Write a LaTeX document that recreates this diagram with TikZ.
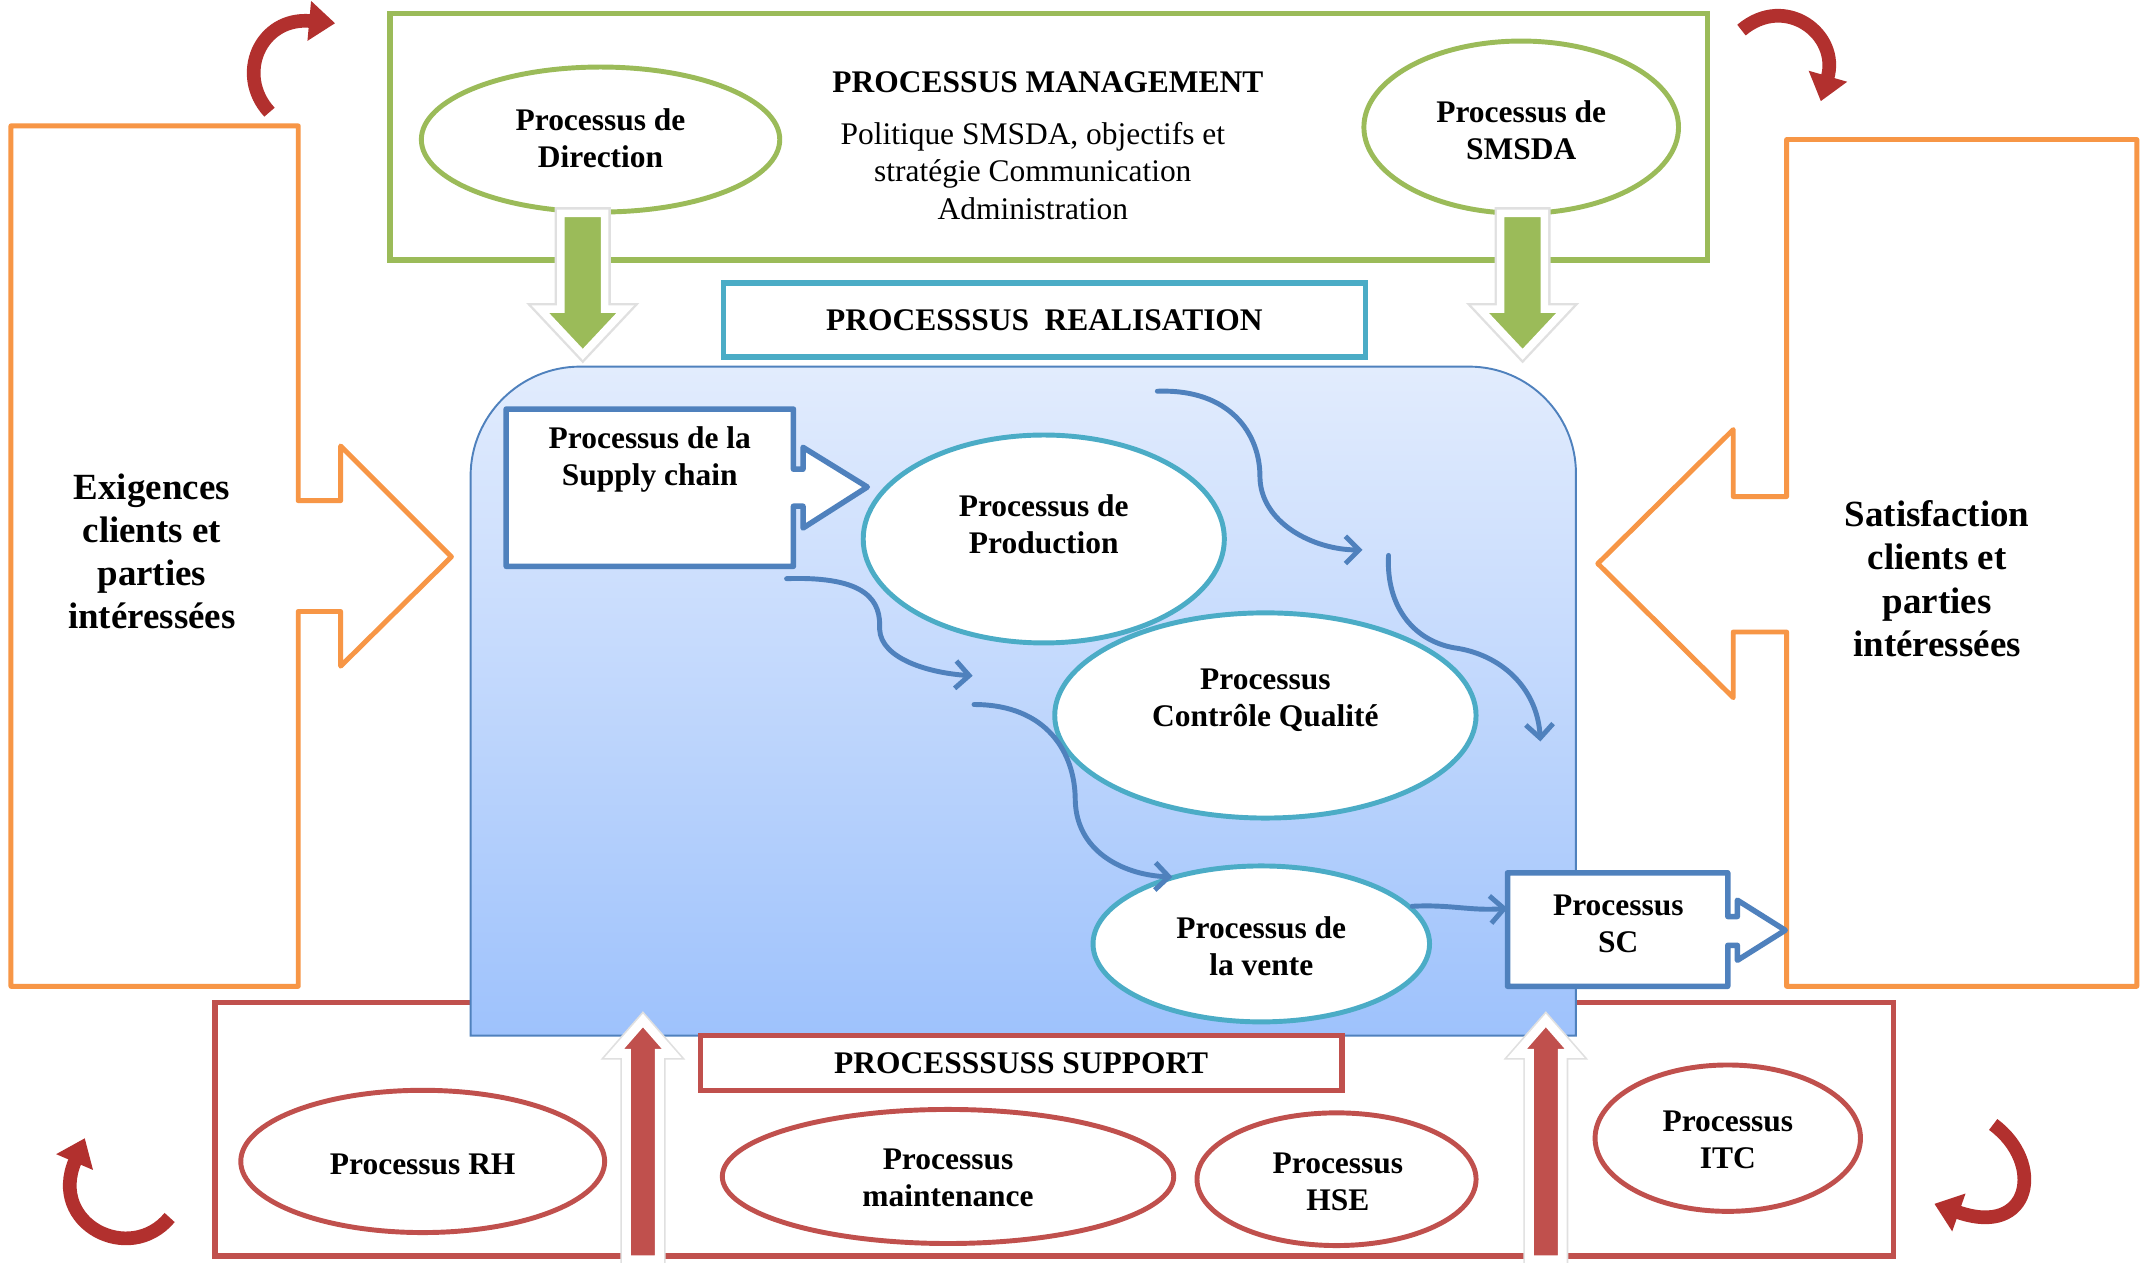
\documentclass[tikz,border=0pt]{standalone}
\usepackage{fontspec}
\setmainfont{Liberation Serif}
\usetikzlibrary{arrows.meta,shapes.geometric}

\definecolor{mgreen}{HTML}{9BBB59}
\definecolor{morange}{HTML}{F79646}
\definecolor{mcyan}{HTML}{4BACC6}
\definecolor{mblue}{HTML}{4F81BD}
\definecolor{mred}{HTML}{C0504D}
\definecolor{ribbon}{RGB}{178,48,46}
\definecolor{areatop}{RGB}{226,236,253}
\definecolor{areabot}{RGB}{158,194,252}

\tikzset{
  oval/.style={ellipse, fill=white, line width=3.6, inner sep=0},
  lbl/.style={align=center, font=\fontsize{23}{27}\selectfont\bfseries, inner sep=0},
  plain/.style={align=center, font=\fontsize{23}{27.5}\selectfont, inner sep=0},
  side/.style={align=center, font=\fontsize{27}{31.5}\selectfont\bfseries, inner sep=0},
  flow/.style={draw=mblue, line width=3.6, line cap=round, -{Straight Barb[length=10,width=20]}},
  ribbonarrow/.style={draw=ribbon, line width=10, -{Triangle[width=28,length=19]}},
  halo/.style={draw=black!12, line width=9, line join=miter},
  bigdown/.style={fill=mgreen, draw=white, line width=5.5, line join=miter},
  bigup/.style={fill=mred, draw=white, line width=6.5, line join=miter},
  titlebox/.style={lbl, fill=white, line width=4, inner sep=0},
}

\begin{document}
\begin{tikzpicture}[x=1pt, y=-1pt]
\useasboundingbox[fill=white] (0,0) rectangle (1568,923);

% support frame (its top edge is partly hidden by the realisation area)
\draw[mred, line width=4] (157,733) rectangle (1384,918);

% input / output arrows
\draw[morange, line width=3.6, fill=white, line join=round]
  (8,92) -- (218,92) -- (218,366) -- (249,366) -- (249,326) -- (330,407)
  -- (249,487) -- (249,447) -- (218,447) -- (218,721) -- (8,721) -- cycle;
\node[side] (exig) at (111,403) {Exigences\\clients et\\parties\\intéressées};

\draw[morange, line width=3.6, fill=white, line join=round]
  (1562,102) -- (1306,102) -- (1306,363) -- (1267,363) -- (1267,314) -- (1168,412)
  -- (1267,510) -- (1267,462) -- (1306,462) -- (1306,721) -- (1562,721) -- cycle;
\node[side] (satis) at (1416,423) {Satisfaction\\clients et\\parties\\intéressées};

% management processes
\draw[mgreen, line width=4] (285,10) rectangle (1248,190);
\node[oval, draw=mgreen, minimum width=262, minimum height=106] (dir) at (439,102) {};
\node[lbl] (dirt) at (439,101) {Processus de\\Direction};
\node[oval, draw=mgreen, minimum width=230, minimum height=126] (smsda) at (1112,93) {};
\node[lbl] (smsdat) at (1112,95) {Processus de\\SMSDA};
\node[lbl] (mgmt) at (766,60) {PROCESSUS MANAGEMENT};
\node[plain] (polit) at (755,125) {Politique SMSDA, objectifs et\\stratégie Communication\\Administration};

% realisation area
\path[shade, top color=areatop, bottom color=areabot, draw=mblue, line width=1.4]
  (344,757) -- (344,348) .. controls (344,304) and (380,268) .. (424,268)
  -- (1074,268) .. controls (1117,268) and (1152,303) .. (1152,346)
  -- (1152,757) -- cycle;
\node[titlebox, draw=mcyan, minimum width=469, minimum height=54] (real) at (763.5,234) {PROCESSSUS\ \ REALISATION};

% management feeding realisation
\foreach \cx in {426,1113} {
  \draw[halo] (\cx-16,156) -- (\cx+16,156) -- (\cx+16,226) -- (\cx+31,226) -- (\cx,259)
    -- (\cx-31,226) -- (\cx-16,226) -- cycle;
  \draw[bigdown] (\cx-16,156) -- (\cx+16,156) -- (\cx+16,226) -- (\cx+31,226) -- (\cx,259)
    -- (\cx-31,226) -- (\cx-16,226) -- cycle;
}

% realisation processes
\draw[mblue, line width=4, fill=white, line join=round]
  (370,299) -- (580,299) -- (580,343) -- (587,343) -- (587,327) -- (634,356)
  -- (587,386) -- (587,370) -- (580,370) -- (580,414) -- (370,414) -- cycle;
\node[lbl] (supt) at (475,336) {Processus de la\\Supply chain};

\node[oval, draw=mcyan, minimum width=308, minimum height=150] (ctrl) at (925,523) {};
\node[lbl] (ctrlt) at (925,512) {Processus\\Contrôle Qualité};
\node[oval, draw=mcyan, minimum width=264, minimum height=152] (prod) at (763,394) {};
\node[lbl] (prodt) at (763,383) {Processus de\\Production};
\node[oval, draw=mcyan, minimum width=246, minimum height=114] (vente) at (922,690) {};
\node[lbl] (ventet) at (922,692) {Processus de\\la vente};

% flows between realisation processes
\coordinate (f1a) at (575,423);  \coordinate (f1b) at (711,494);
\coordinate (f2a) at (712,515);  \coordinate (f2b) at (857,641);
\coordinate (f3a) at (846,286);  \coordinate (f3b) at (996,402);
\coordinate (f4a) at (1015,406); \coordinate (f4b) at (1126,542);
\coordinate (scin) at (1102,664);
\draw[flow] (f1a) .. controls (635,421) and (644,440) .. (643,460)
  .. controls (644,482) and (680,492) .. (f1b);
\draw[flow] (f2a) .. controls (765,515) and (786,550) .. (786,585)
  .. controls (787,625) and (825,640) .. (f2b);
\draw[flow] (f3a) .. controls (900,284) and (921,318) .. (921,348)
  .. controls (921,382) and (960,402) .. (f3b);
\draw[flow] (f4a) .. controls (1013,445) and (1035,470) .. (1066,474)
  .. controls (1100,480) and (1124,505) .. (f4b);
\draw[flow] (vente.14) .. controls (1060,661) and (1075,666) .. (scin);

\draw[mblue, line width=4, fill=white, line join=round]
  (1102,638) -- (1263,638) -- (1263,670) -- (1270,670) -- (1270,658) -- (1305,680)
  -- (1270,702) -- (1270,691) -- (1263,691) -- (1263,721) -- (1102,721) -- cycle;
\node[lbl] (sct) at (1183,675) {Processus\\SC};

% support processes
\node[titlebox, draw=mred, minimum width=469, minimum height=40] (supp) at (746.5,777) {PROCESSSUSS SUPPORT};
\node[oval, draw=mred, minimum width=266, minimum height=104] (rh) at (309,849) {};
\node[lbl] (rht) at (309,851) {Processus RH};
\node[oval, draw=mred, minimum width=330, minimum height=98] (maint) at (693,860) {};
\node[lbl] (maintt) at (693,861) {Processus\\maintenance};
\node[oval, draw=mred, minimum width=204, minimum height=97] (hse) at (977,862) {};
\node[lbl] (hset) at (978,864) {Processus\\HSE};
\node[oval, draw=mred, minimum width=194, minimum height=107] (itc) at (1263,832) {};
\node[lbl] (itct) at (1263,833) {Processus\\ITC};

% support feeding realisation
\foreach \cx in {470,1130} {
  \draw[halo] (\cx-12,921) -- (\cx-12,770) -- (\cx-21,770) -- (\cx,746)
    -- (\cx+21,770) -- (\cx+12,770) -- (\cx+12,921) -- cycle;
  \draw[bigup] (\cx-12,921) -- (\cx-12,770) -- (\cx-21,770) -- (\cx,746)
    -- (\cx+21,770) -- (\cx+12,770) -- (\cx+12,921) -- cycle;
}

% improvement cycle arrows in the corners
\coordinate (r1a) at (197,82);   \coordinate (r1b) at (245,17);
\coordinate (r2a) at (1273,22);  \coordinate (r2b) at (1331,74);
\coordinate (r3a) at (124,890);  \coordinate (r3b) at (62,832);
\coordinate (r4a) at (1457,822); \coordinate (r4b) at (1414,880);
\draw[ribbonarrow] (r1a) .. controls (172,55) and (190,12) .. (r1b);
\draw[ribbonarrow] (r2a) .. controls (1305,-5) and (1345,25) .. (r2b);
\draw[ribbonarrow] (r3a) .. controls (95,925) and (35,895) .. (r3b);
\draw[ribbonarrow] (r4a) .. controls (1495,850) and (1485,905) .. (r4b);
\end{tikzpicture}
\end{document}
